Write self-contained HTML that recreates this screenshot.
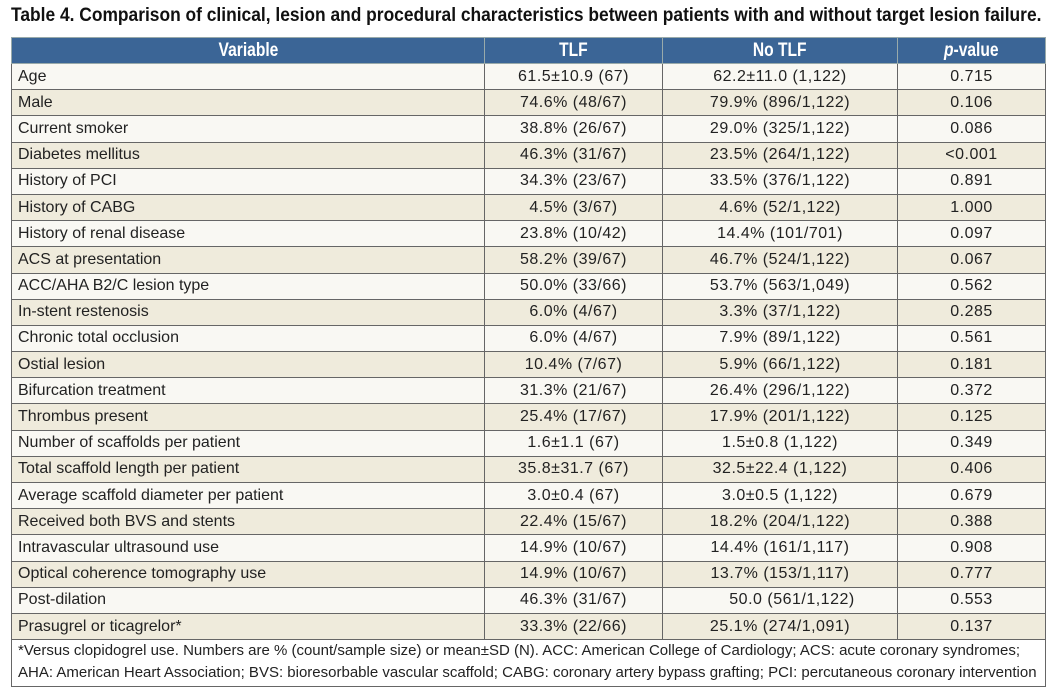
<!DOCTYPE html>
<html><head><style>
body{margin:0;background:#fff;width:1058px;height:695px;overflow:hidden;font-family:"Liberation Sans",sans-serif;}
.title{position:absolute;left:11px;top:5px;font-weight:bold;font-size:19px;color:#111;transform:scaleX(0.915);transform-origin:0 0;white-space:nowrap;}
table{position:absolute;left:11px;top:37px;width:1034px;border-collapse:collapse;font-size:16px;color:#222;table-layout:fixed;}
th{background:#3b6596;color:#fff;font-weight:bold;font-size:19px;height:25px;padding:0;border:1px solid #9aa;text-align:center;}
th span{display:inline-block;transform:scaleX(0.82);}
td{height:25.2px;padding:0 6px;border:1px solid #666;white-space:nowrap;}
tr:nth-child(odd) td{background:#f9f8f3;}
tr:nth-child(even) td{background:#efebdc;}
td.a,td.b,td.c{text-align:center;letter-spacing:0.5px}
tr.f td{background:#fff;font-size:15px;line-height:22px;padding:0 6px 2px 6px;white-space:nowrap;height:auto;overflow:hidden}
</style></head><body>
<div class="title">Table 4. Comparison of clinical, lesion and procedural characteristics between patients with and without target lesion failure.</div>
<table>
<colgroup><col style="width:473px"><col style="width:178px"><col style="width:235px"><col style="width:148px"></colgroup>
<thead><tr><th><span>Variable</span></th><th><span>TLF</span></th><th><span>No TLF</span></th><th><span><i>p</i>-value</span></th></tr></thead>
<tbody>
<tr><td>Age</td><td class="a">61.5±10.9 (67)</td><td class="b">62.2±11.0 (1,122)</td><td class="c">0.715</td></tr>
<tr><td>Male</td><td class="a">74.6% (48/67)</td><td class="b">79.9% (896/1,122)</td><td class="c">0.106</td></tr>
<tr><td>Current smoker</td><td class="a">38.8% (26/67)</td><td class="b">29.0% (325/1,122)</td><td class="c">0.086</td></tr>
<tr><td>Diabetes mellitus</td><td class="a">46.3% (31/67)</td><td class="b">23.5% (264/1,122)</td><td class="c">&lt;0.001</td></tr>
<tr><td>History of PCI</td><td class="a">34.3% (23/67)</td><td class="b">33.5% (376/1,122)</td><td class="c">0.891</td></tr>
<tr><td>History of CABG</td><td class="a">4.5% (3/67)</td><td class="b">4.6% (52/1,122)</td><td class="c">1.000</td></tr>
<tr><td>History of renal disease</td><td class="a">23.8% (10/42)</td><td class="b">14.4% (101/701)</td><td class="c">0.097</td></tr>
<tr><td>ACS at presentation</td><td class="a">58.2% (39/67)</td><td class="b">46.7% (524/1,122)</td><td class="c">0.067</td></tr>
<tr><td>ACC/AHA B2/C lesion type</td><td class="a">50.0% (33/66)</td><td class="b">53.7% (563/1,049)</td><td class="c">0.562</td></tr>
<tr><td>In-stent restenosis</td><td class="a">6.0% (4/67)</td><td class="b">3.3% (37/1,122)</td><td class="c">0.285</td></tr>
<tr><td>Chronic total occlusion</td><td class="a">6.0% (4/67)</td><td class="b">7.9% (89/1,122)</td><td class="c">0.561</td></tr>
<tr><td>Ostial lesion</td><td class="a">10.4% (7/67)</td><td class="b">5.9% (66/1,122)</td><td class="c">0.181</td></tr>
<tr><td>Bifurcation treatment</td><td class="a">31.3% (21/67)</td><td class="b">26.4% (296/1,122)</td><td class="c">0.372</td></tr>
<tr><td>Thrombus present</td><td class="a">25.4% (17/67)</td><td class="b">17.9% (201/1,122)</td><td class="c">0.125</td></tr>
<tr><td>Number of scaffolds per patient</td><td class="a">1.6±1.1 (67)</td><td class="b">1.5±0.8 (1,122)</td><td class="c">0.349</td></tr>
<tr><td>Total scaffold length per patient</td><td class="a">35.8±31.7 (67)</td><td class="b">32.5±22.4 (1,122)</td><td class="c">0.406</td></tr>
<tr><td>Average scaffold diameter per patient</td><td class="a">3.0±0.4 (67)</td><td class="b">3.0±0.5 (1,122)</td><td class="c">0.679</td></tr>
<tr><td>Received both BVS and stents</td><td class="a">22.4% (15/67)</td><td class="b">18.2% (204/1,122)</td><td class="c">0.388</td></tr>
<tr><td>Intravascular ultrasound use</td><td class="a">14.9% (10/67)</td><td class="b">14.4% (161/1,117)</td><td class="c">0.908</td></tr>
<tr><td>Optical coherence tomography use</td><td class="a">14.9% (10/67)</td><td class="b">13.7% (153/1,117)</td><td class="c">0.777</td></tr>
<tr><td>Post-dilation</td><td class="a">46.3% (31/67)</td><td class="b" style="padding-left:30px">50.0 (561/1,122)</td><td class="c">0.553</td></tr>
<tr><td>Prasugrel or ticagrelor*</td><td class="a">33.3% (22/66)</td><td class="b">25.1% (274/1,091)</td><td class="c">0.137</td></tr>
<tr class="f"><td colspan="4">*Versus clopidogrel use. Numbers are % (count/sample size) or mean±SD (N). ACC: American College of Cardiology; ACS: acute coronary syndromes;<br>AHA: American Heart Association; BVS: bioresorbable vascular scaffold; CABG: coronary artery bypass grafting; PCI: percutaneous coronary intervention</td></tr>
</tbody></table>
</body></html>
